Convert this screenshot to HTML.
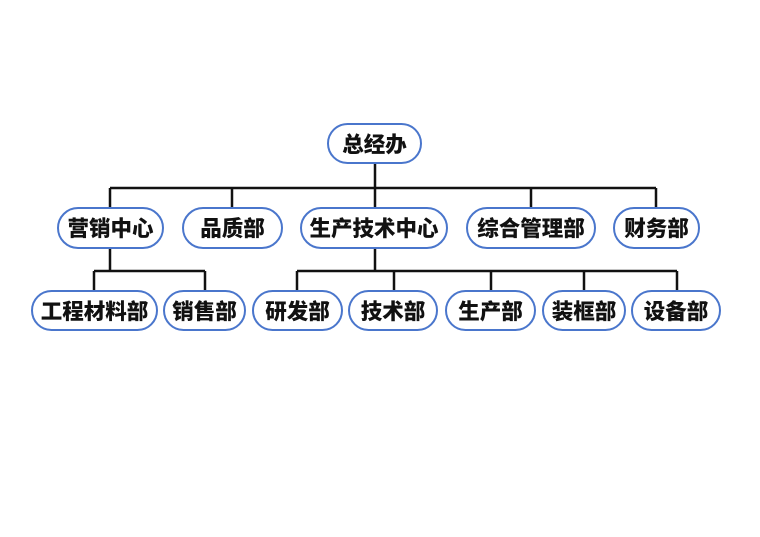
<!DOCTYPE html>
<html><head><meta charset="utf-8"><style>
html,body{margin:0;padding:0;background:#fff;}
svg{display:block}
text{font-family:"Liberation Sans","Noto Sans CJK SC",sans-serif;font-weight:900;font-size:21.5px;fill:#111;}
</style></head><body>
<svg width="760" height="537" viewBox="0 0 760 537" xmlns="http://www.w3.org/2000/svg">
<g stroke="#111" stroke-width="2.5" fill="none">
<path d="M375 163V188M110 188H656M110 188V208M232 188V208M375 188V208M531 188V208M656 188V208"/>
<path d="M110 248V271M94 271H205M94 271V291M205 271V291"/>
<path d="M375 248V271M297 271H677M297 271V291M394 271V291M491 271V291M584 271V291M677 271V291"/>
</g>
<g fill="#fff" stroke="#4a76cc" stroke-width="2">
<rect x="328" y="124" width="93" height="39" rx="19.5"/>
<rect x="58" y="208" width="105" height="40" rx="20"/>
<rect x="183" y="208" width="99" height="40" rx="20"/>
<rect x="301" y="208" width="146" height="40" rx="20"/>
<rect x="467" y="208" width="128" height="40" rx="20"/>
<rect x="614" y="208" width="85" height="40" rx="20"/>
<rect x="32" y="291" width="125" height="39" rx="19.5"/>
<rect x="164" y="291" width="81" height="39" rx="19.5"/>
<rect x="253" y="291" width="89" height="39" rx="19.5"/>
<rect x="349" y="291" width="88" height="39" rx="19.5"/>
<rect x="446" y="291" width="89" height="39" rx="19.5"/>
<rect x="543" y="291" width="82" height="39" rx="19.5"/>
<rect x="632" y="291" width="88" height="39" rx="19.5"/>
</g>
<g text-anchor="middle">
<text x="374.5" y="152">总经办</text>
<text x="110.5" y="236">营销中心</text>
<text x="232.5" y="236">品质部</text>
<text x="374" y="236">生产技术中心</text>
<text x="531" y="236">综合管理部</text>
<text x="656.5" y="236">财务部</text>
<text x="94.5" y="319">工程材料部</text>
<text x="204.5" y="319">销售部</text>
<text x="297.5" y="319">研发部</text>
<text x="393" y="319">技术部</text>
<text x="490.5" y="319">生产部</text>
<text x="584" y="319">装框部</text>
<text x="676" y="319">设备部</text>
</g>
</svg>
</body></html>
